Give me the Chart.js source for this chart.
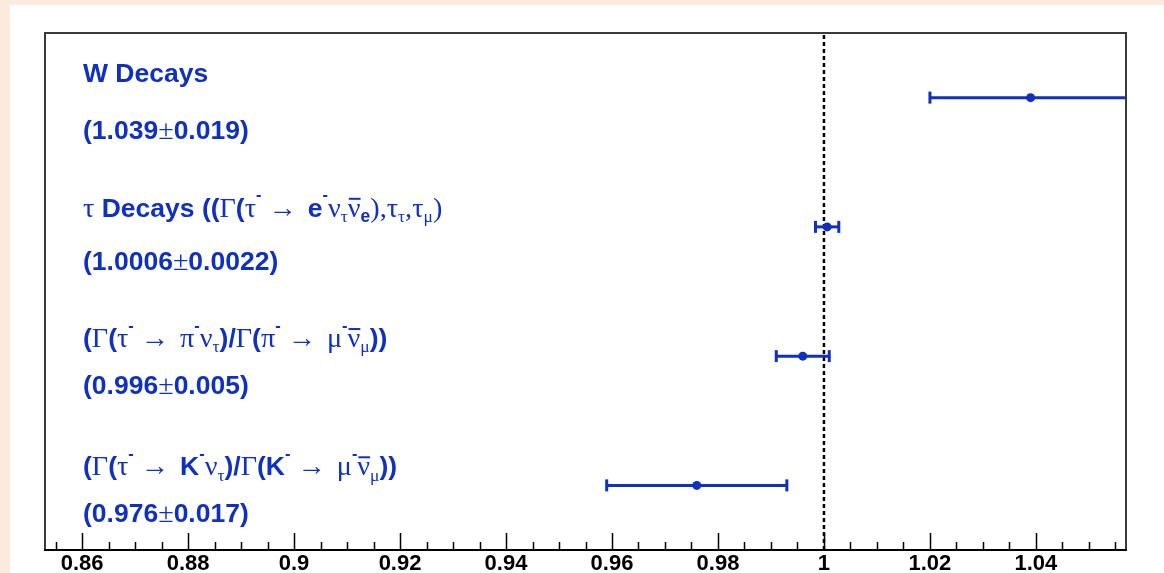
<!DOCTYPE html>
<html>
<head>
<meta charset="utf-8">
<script src="https://cdn.jsdelivr.net/npm/chart.js@4/dist/chart.umd.min.js"></script>
<style>
  html, body { margin: 0; padding: 0; overflow: hidden; background: #fcebdc; }
  canvas { display: block; }
</style>
</head>
<body>
<canvas id="ratioChart" width="1164" height="573"></canvas>
<script>
// measured ratios, one row each (top to bottom)
const centralValues = [1.039, 1.0006, 0.996, 0.976];
const uncertainties = [0.019, 0.0022, 0.005, 0.017];
const rowY = [3.5, 2.5, 1.5, 0.5];
const xTicks = [0.86, 0.88, 0.9, 0.92, 0.94, 0.96, 0.98, 1, 1.02, 1.04];
const xTickLabels = ['0.86', '0.88', '0.9', '0.92', '0.94', '0.96', '0.98', '1', '1.02', '1.04'];
const referenceValue = 1;

// label pieces: B = bold sans, G = serif (greek / symbols), SP = extra space
const B = (t, o = {}) => ({ t, ...o });
const G = (t, o = {}) => ({ t, g: true, ...o });
const SP = (n) => ({ gap: n });
const rowTitles = [
    [B('W Decays')],
    [G('τ'), B(' Decays (('), G('Γ'), B('('), G('τ'), B('-', { sup: 1 }), G(' → '), SP(4), B('e'), B('-', { sup: 1 }),
     G('ν'), G('τ', { sub: 1 }), G('ν', { bar: 1 }), B('e', { sub: 1 }), G('),τ'), G('τ', { sub: 1 }),
     G(',τ'), G('μ', { sub: 1 }), G(')')],
    [B('('), G('Γ'), B('('), G('τ'), B('-', { sup: 1 }), G(' → '), SP(4), G('π'), B('-', { sup: 1 }), G('ν'), G('τ', { sub: 1 }),
     B(')/'), G('Γ'), B('('), G('π'), B('-', { sup: 1 }), G(' → '), SP(4), G('μ'), B('-', { sup: 1 }), G('ν', { bar: 1 }),
     G('μ', { sub: 1 }), B('))')],
    [B('('), G('Γ'), B('('), G('τ'), B('-', { sup: 1 }), G(' → '), SP(4), B('K'), B('-', { sup: 1 }), G('ν'), G('τ', { sub: 1 }),
     B(')/'), G('Γ'), B('('), B('K'), B('-', { sup: 1 }), G(' → '), SP(4), G('μ'), B('-', { sup: 1 }), G('ν', { bar: 1 }),
     G('μ', { sub: 1 }), B('))')]
];

const BLUE = '#1030c0';
const PEACH = '#fcebdc';
const MINOR_STEP = 0.005;
const MAJOR_STEP = 0.02;
// baseline offsets (px) of the title and value lines relative to each row
const titleOffsets = [[-16, 41], [-10, 43], [-9, 38], [-10, 37]];

function drawRich(ctx, segs, x, y, size) {
    let cx = x;
    for (const s of segs) {
        if (s.gap) { cx += s.gap; continue; }
        let fs = s.g ? size * 1.065 : size;
        let dy = 0;
        if (s.sub) { fs = size * 0.66; dy = size * 0.2; }
        if (s.sup) { fs = size * 0.62; dy = -size * 0.62; }
        ctx.font = (s.g ? '' : 'bold ') + fs + 'px ' + (s.g ? '"Liberation Serif", serif' : '"Liberation Sans", Arial, sans-serif');
        ctx.fillText(s.t, cx, y + dy);
        const w = ctx.measureText(s.t).width;
        if (s.bar) {
            ctx.fillRect(cx + 1, y - size * 0.72, w - 1, 2);
        }
        cx += w;
    }
}

const backdrop = {
    id: 'backdrop',
    beforeDraw(chart) {
        const ctx = chart.ctx;
        ctx.save();
        ctx.fillStyle = PEACH;
        ctx.fillRect(0, 0, chart.width, chart.height);
        ctx.fillStyle = '#ffffff';
        ctx.fillRect(10, 5, chart.width - 10, chart.height - 5);
        ctx.restore();
    }
};

const rowText = {
    id: 'rowText',
    afterDatasetsDraw(chart) {
        const ctx = chart.ctx;
        const y = chart.scales.y;
        ctx.save();
        ctx.fillStyle = BLUE;
        ctx.textBaseline = 'alphabetic';
        rowY.forEach((r, i) => {
            const py = y.getPixelForValue(r);
            drawRich(ctx, rowTitles[i], 83, py + titleOffsets[i][0], 26.5);
            const valueLine = [B('(' + centralValues[i]), G('±'), B(uncertainties[i] + ')')];
            drawRich(ctx, valueLine, 83, py + titleOffsets[i][1], 26.5);
        });
        ctx.restore();
    }
};

const frame = {
    id: 'frame',
    afterDraw(chart) {
        const ctx = chart.ctx;
        const { left, right, top, bottom } = chart.chartArea;
        const x = chart.scales.x;
        ctx.save();
        ctx.strokeStyle = '#3a3a3a';
        ctx.lineWidth = 2;
        ctx.beginPath();
        ctx.moveTo(left, bottom);
        ctx.lineTo(left, top);
        ctx.lineTo(right, top);
        ctx.lineTo(right, bottom);
        ctx.stroke();
        ctx.strokeStyle = '#000000';
        ctx.beginPath();
        ctx.moveTo(left - 1, bottom);
        ctx.lineTo(right + 1, bottom);
        ctx.stroke();
        // inward ticks on the x axis
        ctx.lineWidth = 1.5;
        ctx.beginPath();
        const k0 = Math.ceil(x.min / MINOR_STEP - 1e-6);
        const k1 = Math.floor(x.max / MINOR_STEP + 1e-6);
        for (let k = k0; k <= k1; k++) {
            const v = k * MINOR_STEP;
            const major = Math.abs(v / MAJOR_STEP - Math.round(v / MAJOR_STEP)) < 1e-6;
            const px = Math.round(x.getPixelForValue(v)) + 0.5;
            ctx.moveTo(px, bottom);
            ctx.lineTo(px, bottom - (major ? 17 : 8));
        }
        ctx.stroke();
        ctx.restore();
    }
};

const errorBarSets = centralValues.map((v, i) => ({
    data: [{ x: v - uncertainties[i], y: rowY[i] }, { x: v + uncertainties[i], y: rowY[i] }],
    showLine: true,
    borderColor: BLUE,
    borderWidth: 3,
    pointStyle: 'line',
    pointRotation: 90,
    pointRadius: 6,
    pointBorderWidth: 3,
    pointBorderColor: BLUE,
    order: 2
}));

new Chart(document.getElementById('ratioChart'), {
    type: 'scatter',
    data: {
        datasets: [
            {
                data: centralValues.map((v, i) => ({ x: v, y: rowY[i] })),
                pointStyle: 'circle',
                pointRadius: 4.5,
                pointBackgroundColor: BLUE,
                pointBorderWidth: 0,
                order: 1
            },
            ...errorBarSets,
            {
                data: [{ x: referenceValue, y: 0 }, { x: referenceValue, y: 4 }],
                showLine: true,
                borderColor: '#000000',
                borderWidth: 2.5,
                borderDash: [4, 3],
                pointRadius: 0,
                order: 3
            }
        ]
    },
    options: {
        responsive: false,
        animation: false,
        events: [],
        layout: { padding: { left: 45, right: 38, top: 33, bottom: 0 } },
        plugins: {
            legend: { display: false },
            tooltip: { enabled: false }
        },
        scales: {
            x: {
                type: 'linear',
                position: 'bottom',
                min: 0.853,
                max: 1.057,
                afterBuildTicks: (scale) => { scale.ticks = xTicks.map(v => ({ value: v })); },
                afterFit: (scale) => { scale.height = 23; },
                grid: { display: false, drawTicks: false },
                border: { display: false },
                ticks: {
                    autoSkip: false,
                    maxRotation: 0,
                    padding: 1,
                    color: '#000000',
                    font: { family: '"Liberation Sans", Arial, sans-serif', size: 22, weight: 'bold' },
                    callback: (value) => {
                        const idx = xTicks.findIndex(t => Math.abs(t - value) < 1e-9);
                        return idx >= 0 ? xTickLabels[idx] : '';
                    }
                }
            },
            y: { type: 'linear', min: 0, max: 4, display: false }
        }
    },
    plugins: [backdrop, rowText, frame]
});
</script>
</body>
</html>
